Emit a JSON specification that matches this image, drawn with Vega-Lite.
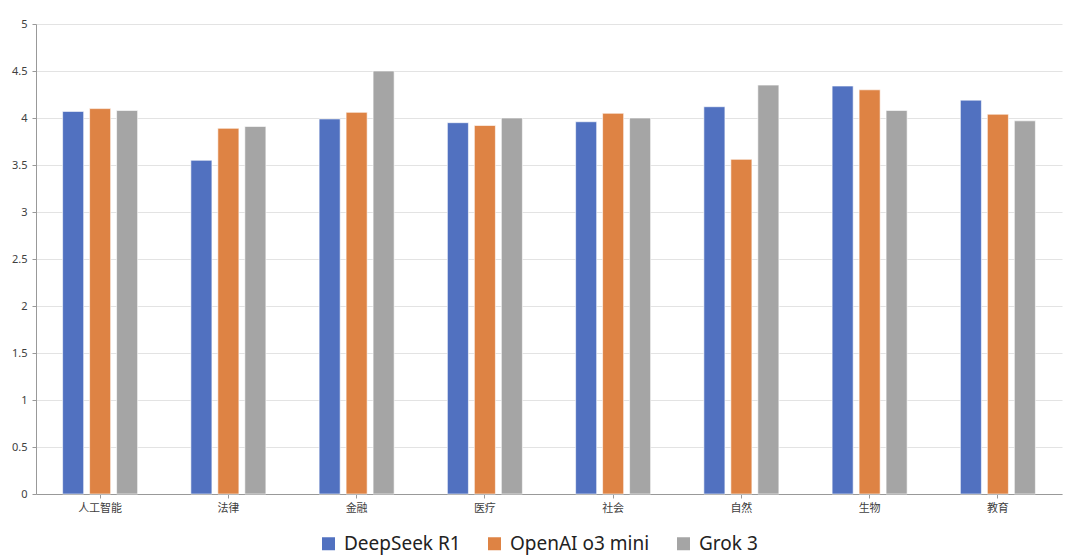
{
  "$schema": "https://vega.github.io/schema/vega-lite/v6.json",
  "autosize": {"type": "none"},
  "width": 1026,
  "height": 470,
  "padding": {"left": 36, "top": 24, "right": 18, "bottom": 65},
  "background": "white",
  "data": {
    "values": [
      {"category": "人工智能", "model": "DeepSeek R1", "score": 4.07},
      {"category": "人工智能", "model": "OpenAI o3 mini", "score": 4.10},
      {"category": "人工智能", "model": "Grok 3", "score": 4.08},
      {"category": "法律", "model": "DeepSeek R1", "score": 3.55},
      {"category": "法律", "model": "OpenAI o3 mini", "score": 3.89},
      {"category": "法律", "model": "Grok 3", "score": 3.91},
      {"category": "金融", "model": "DeepSeek R1", "score": 3.99},
      {"category": "金融", "model": "OpenAI o3 mini", "score": 4.06},
      {"category": "金融", "model": "Grok 3", "score": 4.50},
      {"category": "医疗", "model": "DeepSeek R1", "score": 3.95},
      {"category": "医疗", "model": "OpenAI o3 mini", "score": 3.92},
      {"category": "医疗", "model": "Grok 3", "score": 4.00},
      {"category": "社会", "model": "DeepSeek R1", "score": 3.96},
      {"category": "社会", "model": "OpenAI o3 mini", "score": 4.05},
      {"category": "社会", "model": "Grok 3", "score": 4.00},
      {"category": "自然", "model": "DeepSeek R1", "score": 4.12},
      {"category": "自然", "model": "OpenAI o3 mini", "score": 3.56},
      {"category": "自然", "model": "Grok 3", "score": 4.35},
      {"category": "生物", "model": "DeepSeek R1", "score": 4.34},
      {"category": "生物", "model": "OpenAI o3 mini", "score": 4.30},
      {"category": "生物", "model": "Grok 3", "score": 4.08},
      {"category": "教育", "model": "DeepSeek R1", "score": 4.19},
      {"category": "教育", "model": "OpenAI o3 mini", "score": 4.04},
      {"category": "教育", "model": "Grok 3", "score": 3.97}
    ]
  },
  "mark": {"type": "bar", "stroke": "white", "strokeOpacity": 0.6, "strokeWidth": 1},
  "encoding": {
    "x": {
      "field": "category",
      "type": "nominal",
      "sort": ["人工智能", "法律", "金融", "医疗", "社会", "自然", "生物", "教育"],
      "scale": {"paddingInner": 0.415, "paddingOuter": 0.2075},
      "axis": {
        "title": null,
        "labelAngle": 0,
        "labelFont": "Noto Sans CJK SC",
        "labelFontSize": 11,
        "labelColor": "#404040",
        "labelPadding": 4,
        "tickSize": 4,
        "tickColor": "#999999",
        "domainColor": "#999999",
        "grid": false
      }
    },
    "xOffset": {
      "field": "model",
      "type": "nominal",
      "sort": ["DeepSeek R1", "OpenAI o3 mini", "Grok 3"],
      "scale": {"paddingInner": 0.22, "paddingOuter": 0}
    },
    "y": {
      "field": "score",
      "type": "quantitative",
      "scale": {"domain": [0, 5], "nice": false},
      "axis": {
        "title": null,
        "values": [0, 0.5, 1, 1.5, 2, 2.5, 3, 3.5, 4, 4.5, 5],
        "labelExpr": "'' + datum.value",
        "labelFont": "Noto Sans",
        "labelFontSize": 11,
        "labelColor": "#404040",
        "labelPadding": 5,
        "tickSize": 4,
        "tickColor": "#999999",
        "domainColor": "#999999",
        "gridColor": "#e3e3e3",
        "grid": true
      }
    },
    "color": {
      "field": "model",
      "type": "nominal",
      "sort": ["DeepSeek R1", "OpenAI o3 mini", "Grok 3"],
      "scale": {
        "domain": ["DeepSeek R1", "OpenAI o3 mini", "Grok 3"],
        "range": ["#5171C0", "#DE8344", "#A5A5A5"]
      },
      "legend": {
        "title": null,
        "orient": "none",
        "direction": "horizontal",
        "legendX": 283,
        "legendY": 510,
        "symbolType": "square",
        "symbolSize": 169,
        "symbolStrokeWidth": 0,
        "labelFont": "Noto Sans",
        "labelFontSize": 19,
        "labelColor": "#222222",
        "labelOffset": 6,
        "columnPadding": 24
      }
    }
  },
  "config": {"view": {"stroke": null}}
}
